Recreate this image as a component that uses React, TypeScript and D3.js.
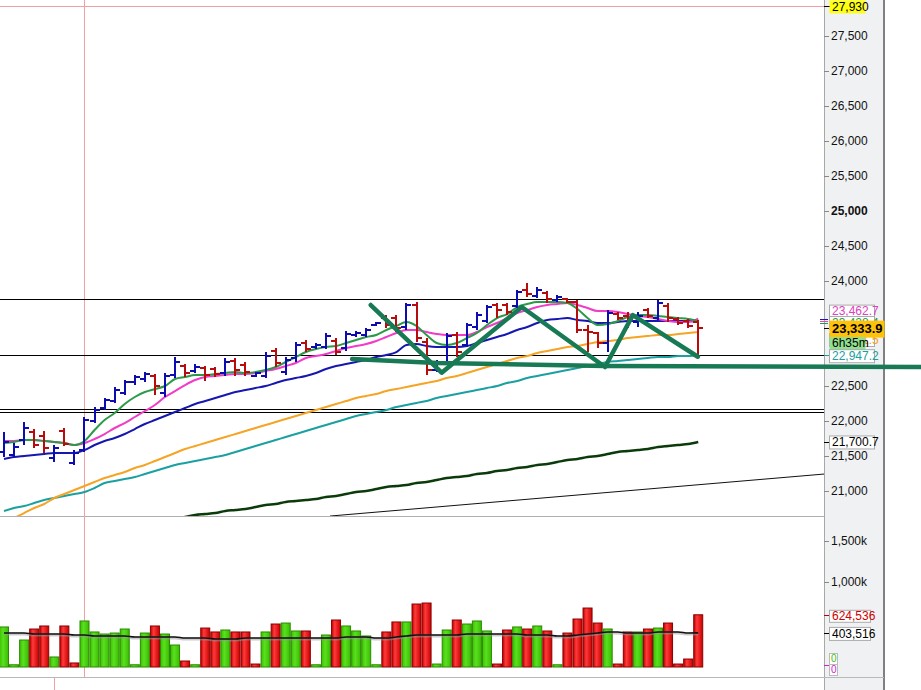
import React from 'react';
import * as d3 from 'd3';

// ---------- DATA ----------
const priceOpen = [21557,21514,21728,21843,21785,21471,21857,21400,21586,22000,22185,22285,22400,22557,22600,22643,22400,22657,22785,22714,22757,22743,22685,22857,22800,22643,22643,23000,22700,22900,23114,23057,23057,23143,23043,23228,23228,23371,23471,23471,23343,23657,23128,22728,22843,23228,23085,23343,23428,23657,23657,23643,23871,23785,23828,23728,23743,23700,23300,23257,23114,23528,23500,23414,23585,23471,23643,23457,23428,23414];
const priceHigh = [21843,21685,21985,21885,21857,21657,21900,21586,22057,22200,22328,22486,22585,22657,22700,22671,22685,22914,22814,22814,22785,22771,22900,22900,22843,22700,22985,23043,22914,23128,23157,23114,23257,23186,23285,23285,23328,23414,23514,23514,23686,23700,23186,22871,23257,23271,23400,23557,23657,23686,23686,23871,23971,23914,23857,23800,23757,23728,23371,23271,23585,23557,23557,23557,23614,23728,23686,23486,23457,23442];
const priceLow = [21485,21485,21657,21614,21543,21414,21643,21371,21557,21971,22157,22257,22371,22514,22557,22371,22342,22614,22628,22685,22571,22628,22643,22643,22643,22628,22614,22771,22657,22843,22985,23028,23028,22943,23000,23200,23200,23357,23328,23271,23300,23128,22657,22700,22800,22914,23057,23300,23400,23471,23514,23614,23771,23757,23686,23700,23686,23257,22985,23043,22985,23442,23328,23343,23471,23442,23414,23371,23328,22943];
const priceClose = [21700,21628,21900,21657,21614,21614,21671,21543,22014,22157,22300,22442,22557,22628,22671,22500,22643,22843,22685,22771,22657,22671,22843,22728,22700,22685,22928,22828,22871,23085,23028,23085,23214,22985,23243,23257,23300,23400,23371,23328,23657,23186,22728,22843,23214,22985,23371,23514,23628,23585,23557,23843,23814,23871,23743,23771,23700,23300,23271,23114,23542,23471,23442,23500,23500,23686,23471,23400,23357,23333.9];

const volume = [476000,15000,317000,451000,488000,110000,488000,37000,549000,415000,390000,402000,451000,15000,402000,488000,390000,256000,61000,15000,463000,415000,439000,415000,415000,24000,415000,512000,524000,427000,427000,15000,378000,561000,488000,427000,366000,15000,415000,537000,537000,756000,768000,24000,439000,561000,512000,549000,427000,24000,439000,476000,451000,488000,427000,15000,402000,573000,707000,524000,451000,24000,415000,415000,451000,463000,524000,24000,85000,624536];
const volumeUp = [1,1,1,0,0,1,0,0,1,1,1,1,1,1,1,0,1,1,0,1,0,0,1,0,0,0,1,0,1,1,0,1,1,0,1,1,1,1,0,0,1,0,0,1,1,0,1,1,1,0,0,1,0,1,0,1,0,0,0,0,1,0,0,1,0,1,0,0,0,0];
const volumeAvg = [402000,402000,402000,390000,390000,390000,390000,378000,378000,366000,366000,366000,366000,354000,354000,354000,354000,354000,341000,341000,341000,329000,329000,329000,341000,341000,341000,341000,341000,341000,341000,341000,341000,341000,354000,354000,354000,341000,341000,354000,366000,378000,378000,378000,378000,378000,390000,390000,390000,390000,390000,390000,378000,378000,378000,366000,366000,378000,390000,402000,415000,415000,402000,402000,402000,415000,415000,415000,402000,403516];

const maGreen = [21685,21700,21728,21728,21714,21700,21685,21657,21714,21871,22014,22114,22243,22343,22414,22457,22500,22600,22628,22657,22657,22671,22685,22700,22685,22700,22728,22771,22843,22914,22985,23028,23057,23071,23114,23157,23200,23228,23300,23357,23414,23357,23228,23114,23085,23114,23185,23257,23371,23471,23528,23628,23671,23700,23700,23700,23686,23600,23471,23371,23385,23428,23485,23514,23514,23500,23485,23471,23457,23428];
const maMagenta = [21714,21714,21728,21728,21714,21700,21685,21657,21685,21743,21814,21900,21971,22057,22143,22228,22343,22428,22514,22585,22628,22643,22657,22671,22671,22685,22714,22743,22785,22828,22900,22928,22957,23000,23043,23071,23100,23143,23200,23257,23300,23300,23271,23243,23228,23228,23228,23271,23343,23400,23471,23543,23585,23628,23657,23671,23686,23657,23614,23571,23571,23557,23528,23500,23485,23457,23428,23414,23414,23462.7];
const maBlue = [21457,21485,21500,21514,21528,21543,21543,21543,21585,21657,21714,21757,21814,21885,21957,22014,22071,22128,22185,22243,22285,22328,22371,22414,22442,22471,22500,22543,22585,22614,22643,22685,22743,22785,22814,22843,22871,22914,22943,22985,23085,23100,23071,23057,23057,23057,23071,23114,23157,23200,23243,23300,23343,23400,23442,23457,23471,23442,23428,23400,23400,23414,23428,23428,23428,23428,23428,23428,23428,23414];
const maOrange = [20543,20614,20685,20757,20814,20900,20957,21014,21071,21128,21185,21228,21271,21328,21371,21428,21485,21543,21600,21643,21685,21728,21771,21814,21857,21900,21943,21985,22028,22071,22114,22157,22200,22243,22285,22328,22357,22385,22428,22457,22485,22514,22543,22571,22614,22643,22685,22728,22771,22814,22857,22900,22928,22971,23000,23028,23057,23071,23100,23128,23143,23157,23185,23200,23214,23228,23228,23243,23257,23271.5];
const maTeal = [20714,20757,20785,20828,20871,20900,20928,20957,20985,21043,21114,21143,21171,21200,21243,21285,21328,21371,21400,21428,21457,21485,21514,21557,21600,21643,21685,21728,21771,21814,21857,21900,21943,21985,22028,22071,22100,22128,22157,22200,22228,22257,22285,22328,22357,22385,22414,22442,22471,22500,22543,22571,22614,22643,22671,22700,22728,22757,22785,22814,22843,22857,22871,22885,22900,22914,22914,22928,22928,22947.2];
const maDarkGreen = [null,null,null,null,null,null,null,null,null,null,null,null,null,null,null,null,null,20600,20628,20657,20671,20685,20714,20728,20743,20771,20800,20814,20843,20857,20871,20885,20914,20928,20957,20985,21000,21028,21057,21071,21085,21114,21128,21157,21185,21200,21214,21243,21257,21285,21300,21328,21343,21371,21385,21414,21442,21457,21485,21500,21528,21557,21571,21585,21600,21628,21643,21657,21671,21700.7];

const priceTicks = [21000, 21500, 22000, 22500, 24000, 24500, 25000, 25500, 26000, 26500, 27000, 27500];
const volumeTicks = [1000000, 1500000];
const levelLines = [23743, 22943, 22171, 22128];
const markerPrice = 27930;
const markerBar = 8;
const trendLine: [number, number][] = [[32.4, 20642], [81.5, 21242]];
const patternLine: [number, number][] = [[36.45, 23657], [43.5, 22690], [51.46, 23628], [59.74, 22771], [62.5, 23514], [68.96, 22918]];
const neckLine: [number, number][] = [[34.6, 22885], [43.04, 22828], [59.74, 22785], [91.15, 22771]];

// ---------- STYLE ----------
const FONT = "'Liberation Sans', Arial, sans-serif";
const BLUE = '#0c0cb0';
const RED = '#b80c0c';

export default function App() {
  const W = 921, H = 690;
  const plotRight = 824;
  const x = d3.scaleLinear().domain([0, 81.5]).range([4, 824]);
  const yP = d3.scaleLinear().domain([21000, 25000]).range([491, 211]);
  const yV = d3.scaleLinear().domain([0, 1000000]).range([666, 584]);

  const lineP = (arr: (number | null)[]) =>
    d3.line<number | null>()
      .defined((d) => d !== null)
      .x((_, i) => x(i))
      .y((d) => yP(d as number))
      .curve(d3.curveMonotoneX)(arr) || '';
  const pathXY = (pts: [number, number][]) =>
    d3.line<[number, number]>().x((d) => x(d[0])).y((d) => yP(d[1]))(pts) || '';
  const volLine = d3.line<number>().x((_, i) => x(i)).y((d) => yV(d)).curve(d3.curveMonotoneX)(volumeAvg) || '';

  const n = priceOpen.length;

  const labelBox = (yc: number, text: string, opts: { color: string; bg: string; border?: string; w: number; h?: number; bold?: boolean; size?: number }) => {
    const h = opts.h ?? 13;
    return (
      <g>
        <rect x={829.5} y={yc - h / 2} width={opts.w} height={h} fill={opts.bg} stroke={opts.border ?? 'none'} />
        <text x={832} y={yc + 0.5} dominantBaseline="middle" fontSize={opts.size ?? 12} fontWeight={opts.bold ? 'bold' : 'normal'} fill={opts.color} fontFamily={FONT}>{text}</text>
      </g>
    );
  };

  return (
    <div style={{ position: 'fixed', left: 0, top: 0, width: W, height: H, background: '#fff' }}>
      <svg width={W} height={H} style={{ display: 'block' }}>
        <defs>
          <clipPath id="cp-price"><rect x={0} y={0} width={plotRight} height={516} /></clipPath>
          <clipPath id="cp-vol"><rect x={0} y={517} width={plotRight} height={160} /></clipPath>
          <linearGradient id="g-red" x1="0" x2="1" y1="0" y2="0">
            <stop offset="0%" stopColor="#c00000" />
            <stop offset="35%" stopColor="#ff3a3a" />
            <stop offset="100%" stopColor="#c80000" />
          </linearGradient>
          <linearGradient id="g-green" x1="0" x2="1" y1="0" y2="0">
            <stop offset="0%" stopColor="#3cc000" />
            <stop offset="40%" stopColor="#5ae020" />
            <stop offset="100%" stopColor="#38bc00" />
          </linearGradient>
        </defs>

        <rect x={0} y={0} width={W} height={H} fill="#fff" />

        {/* axis panel */}
        <rect x={824} y={0} width={60} height={H} fill="#f0f1f3" />
        <line x1={824.5} x2={824.5} y1={0} y2={H} stroke="#a8a8a8" />
        <line x1={884} x2={884} y1={0} y2={H} stroke="#808080" strokeWidth={2} />

        {/* panel separators */}
        <line x1={0} x2={824} y1={516.5} y2={516.5} stroke="#b0b0b0" />
        <line x1={0} x2={884} y1={677.5} y2={677.5} stroke="#b8b8b8" />

        {/* marker lines */}
        <line x1={0} x2={829} y1={Math.round(yP(markerPrice)) + 0.5} y2={Math.round(yP(markerPrice)) + 0.5} stroke="#f0a0a0" />
        <line x1={Math.round(x(markerBar)) + 0.5} x2={Math.round(x(markerBar)) + 0.5} y1={0} y2={677} stroke="#f0a0a0" />
        <line x1={Math.round(x(5)) + 0.5} x2={Math.round(x(5)) + 0.5} y1={678} y2={H} stroke="#f0a0a0" />

        {/* price panel */}
        <g clipPath="url(#cp-price)">
          {levelLines.map((v, i) => (
            <line key={i} x1={0} x2={plotRight} y1={Math.round(yP(v)) + 0.5} y2={Math.round(yP(v)) + 0.5} stroke="#000" strokeWidth={1} />
          ))}
          <path d={pathXY(trendLine)} fill="none" stroke="#111" strokeWidth={1} />
          <path d={lineP(maDarkGreen)} fill="none" stroke="#0b3a0b" strokeWidth={2.5} />
          <path d={lineP(maTeal)} fill="none" stroke="#1aa0a0" strokeWidth={2} />
          <path d={lineP(maOrange)} fill="none" stroke="#f5a424" strokeWidth={2} />
          <path d={lineP(maBlue)} fill="none" stroke="#1616b0" strokeWidth={2} />
          <path d={lineP(maMagenta)} fill="none" stroke="#f03cc8" strokeWidth={2} />
          <path d={lineP(maGreen)} fill="none" stroke="#2a9a48" strokeWidth={2} />
          {priceOpen.map((o, i) => {
            const cx = Math.round(x(i));
            const c = priceClose[i];
            const col = c >= o ? BLUE : RED;
            const yo = Math.round(yP(o));
            const yc = Math.round(yP(c));
            return (
              <g key={i} stroke={col} strokeWidth={2}>
                <line x1={cx} x2={cx} y1={Math.round(yP(priceHigh[i]))} y2={Math.round(yP(priceLow[i]))} />
                <line x1={cx - 5} x2={cx} y1={yo} y2={yo} />
                <line x1={cx} x2={cx + 5} y1={yc} y2={yc} />
              </g>
            );
          })}
          <path d={pathXY(patternLine)} fill="none" stroke="#177a55" strokeWidth={4.5} strokeLinejoin="round" strokeLinecap="round" />
        </g>
        <path d={pathXY(neckLine)} fill="none" stroke="#177a55" strokeWidth={4.5} strokeLinejoin="round" strokeLinecap="round" />

        {/* volume panel */}
        <g clipPath="url(#cp-vol)">
          {volume.map((v, i) => {
            const cx = x(i);
            const up = volumeUp[i] === 1;
            const top = yV(v);
            const bottom = yV(0) + 1;
            return (
              <rect key={i} x={cx - 4.5} y={top} width={9} height={Math.max(1.5, bottom - top)}
                fill={up ? 'url(#g-green)' : 'url(#g-red)'} stroke={up ? '#2a8a00' : '#8a0000'} strokeWidth={1} />
            );
          })}
          <path d={volLine} fill="none" stroke="#999" strokeWidth={3} transform="translate(0,1)" opacity={0.5} />
          <path d={volLine} fill="none" stroke="#111" strokeWidth={1.6} />
        </g>

        {/* price axis ticks */}
        {priceTicks.map((t) => {
          const yy = Math.round(yP(t)) + 0.5;
          return (
            <g key={t}>
              <line x1={824} x2={829} y1={yy} y2={yy} stroke="#888" />
              <text x={831} y={yy + 0.5} dominantBaseline="middle" fontSize={12} fontFamily={FONT}
                fontWeight={t === 25000 ? 'bold' : 'normal'} fill="#111">{d3.format(',')(t)}</text>
            </g>
          );
        })}
        {volumeTicks.map((t) => {
          const yy = Math.round(yV(t)) - 1.5;
          return (
            <g key={t}>
              <line x1={824} x2={829} y1={yy} y2={yy} stroke="#888" />
              <text x={831} y={yy + 0.5} dominantBaseline="middle" fontSize={12} fontFamily={FONT} fill="#111">{d3.format(',')(t / 1000)}k</text>
            </g>
          );
        })}

        {/* price labels */}
        <line x1={824} x2={830} y1={Math.round(yP(markerPrice)) + 0.5} y2={Math.round(yP(markerPrice)) + 0.5} stroke="#000" />
        {labelBox(yP(markerPrice) + 1, '27,930', { color: '#000', bg: '#ffff10', w: 36, h: 13 })}
        {labelBox(yP(maMagenta[n - 1]) - 7, '23,462.7', { color: '#e040c0', bg: '#fff', border: '#aaa', w: 45 })}
        {labelBox(yP(maGreen[n - 1]) + 2, '23,428.4', { color: '#2a9a48', bg: '#fff', border: '#aaa', w: 45 })}
        {labelBox(yP(maOrange[n - 1]) + 8, '23,271.5', { color: '#f0a020', bg: '#fff', border: '#aaa', w: 45 })}
        <line x1={820} x2={828} y1={319.5} y2={319.5} stroke="#1616b0" />
        <line x1={820} x2={828} y1={321.5} y2={321.5} stroke="#f03cc8" />
        <line x1={820} x2={828} y1={323.5} y2={323.5} stroke="#2a9a48" />
        <line x1={824} x2={829} y1={Math.round(yP(priceClose[n - 1])) + 0.5} y2={Math.round(yP(priceClose[n - 1])) + 0.5} stroke="#000" />
        {labelBox(yP(priceClose[n - 1]) + 1.5, '23,333.9', { color: '#000', bg: '#ffc20a', w: 55, h: 17, bold: true, size: 13 })}
        {labelBox(yP(priceClose[n - 1]) + 16, '6h35m', { color: '#000', bg: '#8fe08f', w: 36, h: 13 })}
        <line x1={824} x2={829} y1={Math.round(yP(maTeal[n - 1])) + 0.5} y2={Math.round(yP(maTeal[n - 1])) + 0.5} stroke="#1aa0a0" />
        {labelBox(yP(maTeal[n - 1]) + 1.5, '22,947.2', { color: '#1aa0a0', bg: '#fff', border: '#aaa', w: 45 })}
        <line x1={824} x2={829} y1={Math.round(yP(maDarkGreen[n - 1] as number)) + 0.5} y2={Math.round(yP(maDarkGreen[n - 1] as number)) + 0.5} stroke="#000" />
        {labelBox(yP(maDarkGreen[n - 1] as number) + 0.5, '21,700.7', { color: '#000', bg: '#fff', border: '#aaa', w: 45 })}

        {/* volume labels */}
        <line x1={824} x2={829} y1={Math.round(yV(volume[n - 1])) + 0.5} y2={Math.round(yV(volume[n - 1])) + 0.5} stroke="#c00000" />
        {labelBox(yV(volume[n - 1]) + 1.5, d3.format(',')(volume[n - 1]), { color: '#d00000', bg: '#fff', border: '#aaa', w: 41, h: 12 })}
        <line x1={824} x2={829} y1={Math.round(yV(volumeAvg[n - 1])) + 0.5} y2={Math.round(yV(volumeAvg[n - 1])) + 0.5} stroke="#000" />
        {labelBox(yV(volumeAvg[n - 1]) + 1, d3.format(',')(volumeAvg[n - 1]), { color: '#000', bg: '#fff', border: '#aaa', w: 41, h: 13 })}
        <rect x={829.5} y={653.5} width={8} height={11} fill="#fff" stroke="#bbb" />
        <text x={831} y={659} dominantBaseline="middle" fontSize={10} fontFamily={FONT} fill="#40c000">0</text>
        <line x1={824} x2={829} y1={665.5} y2={665.5} stroke="#d020d0" />
        <rect x={829.5} y={664.5} width={8} height={11} fill="#fff" stroke="#bbb" />
        <text x={831} y={670} dominantBaseline="middle" fontSize={10} fontFamily={FONT} fill="#d020d0">0</text>
      </svg>
    </div>
  );
}
